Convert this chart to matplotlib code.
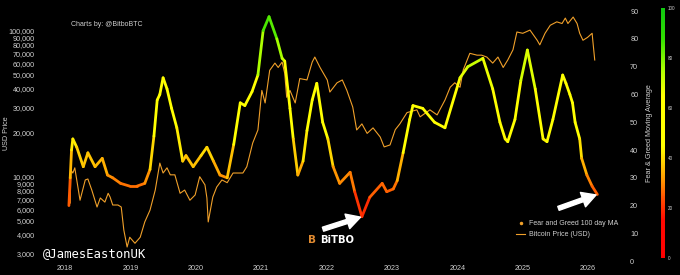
import matplotlib
matplotlib.use("Agg")
import matplotlib.pyplot as plt
import numpy as np
from matplotlib.collections import LineCollection
from matplotlib.colors import LinearSegmentedColormap, Normalize
from matplotlib.cm import ScalarMappable
from matplotlib.lines import Line2D
from matplotlib.ticker import FixedLocator

# bitcoin price (USD)
btc_year = [2018.08, 2018.09, 2018.12, 2018.15, 2018.23, 2018.31, 2018.35, 2018.41, 2018.49, 2018.54,
            2018.61, 2018.66, 2018.69, 2018.73, 2018.81, 2018.86, 2018.90, 2018.95, 2018.99, 2019.07,
            2019.15, 2019.22, 2019.30, 2019.38, 2019.45, 2019.50, 2019.56, 2019.61, 2019.68, 2019.76,
            2019.83, 2019.91, 2019.99, 2020.06, 2020.14, 2020.17, 2020.19, 2020.26, 2020.32, 2020.40,
            2020.48, 2020.57, 2020.72, 2020.78, 2020.87, 2020.95, 2021.01, 2021.06, 2021.13, 2021.21,
            2021.26, 2021.32, 2021.36, 2021.39, 2021.44, 2021.52, 2021.59, 2021.70, 2021.78, 2021.82,
            2021.90, 2022.01, 2022.05, 2022.16, 2022.24, 2022.31, 2022.40, 2022.46, 2022.54, 2022.62,
            2022.71, 2022.82, 2022.88, 2022.97, 2023.05, 2023.12, 2023.23, 2023.38, 2023.43, 2023.58,
            2023.69, 2023.81, 2023.89, 2023.96, 2024.04, 2024.09, 2024.19, 2024.30, 2024.37, 2024.45,
            2024.54, 2024.62, 2024.70, 2024.77, 2024.85, 2024.91, 2025.00, 2025.11, 2025.22, 2025.26,
            2025.34, 2025.42, 2025.52, 2025.60, 2025.65, 2025.69, 2025.77, 2025.83, 2025.87, 2025.92,
            2025.99, 2026.06, 2026.07, 2026.10]
btc_price = [6600, 11100, 10600, 11500, 6900, 9500, 9650, 8100, 6200, 7150,
             6700, 7700, 7250, 6400, 6400, 6200, 4300, 3300, 3850, 3500,
             3850, 4900, 5900, 8100, 12400, 10600, 11500, 10300, 10300, 7700,
             8100, 6900, 7500, 10000, 8800, 7150, 4900, 7250, 8500, 9500,
             9100, 10600, 10600, 11700, 17000, 20900, 39000, 32000, 53500, 60000,
             56000, 61000, 51000, 35000, 39000, 32000, 47000, 46000, 61000, 66000,
             56000, 46000, 38000, 44000, 46000, 39000, 30000, 20900, 23000, 19800,
             21600, 18700, 16000, 16500, 21000, 23000, 27500, 28700, 25700, 28700,
             26500, 33500, 41000, 44000, 41000, 54000, 70000, 68000, 68000, 66000,
             60000, 66000, 56000, 63000, 74000, 98000, 96000, 101000, 86000, 80000,
             96000, 109000, 115000, 112000, 122000, 112000, 124000, 112000, 96000, 86000,
             90000, 96000, 86000, 63000]

# fear & greed 100 day moving average
fg_year = [2018.06, 2018.08, 2018.10, 2018.12, 2018.18, 2018.28, 2018.35, 2018.46, 2018.57, 2018.65,
           2018.73, 2018.85, 2018.99, 2019.10, 2019.22, 2019.30, 2019.36, 2019.41, 2019.45, 2019.50,
           2019.56, 2019.63, 2019.71, 2019.80, 2019.85, 2019.96, 2020.08, 2020.17, 2020.27, 2020.37,
           2020.48, 2020.58, 2020.68, 2020.75, 2020.86, 2020.95, 2021.03, 2021.12, 2021.24, 2021.32,
           2021.36, 2021.44, 2021.49, 2021.56, 2021.64, 2021.70, 2021.78, 2021.85, 2021.94, 2022.02,
           2022.10, 2022.20, 2022.36, 2022.43, 2022.54, 2022.66, 2022.85, 2022.92, 2023.02, 2023.08,
           2023.17, 2023.27, 2023.32, 2023.47, 2023.65, 2023.81, 2024.04, 2024.16, 2024.39, 2024.54,
           2024.65, 2024.73, 2024.77, 2024.88, 2024.97, 2025.07, 2025.19, 2025.31, 2025.37, 2025.46,
           2025.61, 2025.66, 2025.72, 2025.76, 2025.80, 2025.87, 2025.90, 2025.98, 2026.06, 2026.14]
fg_value = [20, 30, 40, 44, 41, 34, 39, 34, 37, 31,
            30, 28, 27, 27, 28, 33, 45, 58, 60, 66,
            62, 55, 48, 36, 38, 34, 38, 41, 36, 31,
            30, 42, 57, 56, 61, 67, 83, 88, 80, 73,
            72, 55, 44, 31, 36, 47, 58, 64, 50, 44,
            34, 28, 32, 25, 16, 23, 28, 25, 26, 29,
            39, 51, 56, 55, 50, 48, 66, 70, 73, 62,
            50, 44, 43, 51, 65, 76, 62, 44, 43, 51,
            67, 64, 60, 57, 50, 44, 37, 31, 27, 24]

years = [2018, 2019, 2020, 2021, 2022, 2023, 2024, 2025, 2026]
price_ticks = [3000, 4000, 5000, 6000, 7000, 8000, 9000, 10000,
               20000, 30000, 40000, 50000, 60000, 70000, 80000, 90000, 100000]
fg_ticks = [0, 10, 20, 30, 40, 50, 60, 70, 80, 90]

txt = "#d0d0d0"
btc_col = "#f0a02a"
plt.rcParams["font.family"] = ["Liberation Sans", "DejaVu Sans"]

fg_cmap = LinearSegmentedColormap.from_list("fg", [
    (0.0, "#ff0000"), (0.15, "#ff0800"), (0.25, "#ff5a00"), (0.31, "#ff9500"),
    (0.38, "#ffd000"), (0.45, "#ffff00"), (0.65, "#ffff00"), (0.76, "#a8ff00"),
    (0.88, "#30e000"), (1.0, "#10c810")])
norm = Normalize(0, 100)

fig = plt.figure(figsize=(6.8, 2.75), dpi=100, facecolor="black")
ax = fig.add_axes([40 / 680, 13 / 275, 586 / 680, 257 / 275], facecolor="black")
ax2 = ax.twinx()

ax.plot(btc_year, btc_price, color=btc_col, lw=0.8)
ax.set_yscale("log")
ax.set_xlim(2017.618, 2026.578)
ax.set_ylim(2605, 150000)
ax.yaxis.set_major_locator(FixedLocator(price_ticks))
ax.yaxis.set_minor_locator(FixedLocator([]))
ax.yaxis.set_major_formatter("{x:,.0f}")
ax.set_xticks(years)
ax.set_xticklabels([str(y) for y in years])

pts = np.column_stack([fg_year, fg_value])
segs = np.stack([pts[:-1], pts[1:]], axis=1)
mids = (np.array(fg_value[:-1]) + np.array(fg_value[1:])) / 2
lc = LineCollection(segs, cmap=fg_cmap, norm=norm, linewidths=2.0, capstyle="round", joinstyle="round")
lc.set_array(mids)
ax2.add_collection(lc)
ax2.set_ylim(-0.3, 92.2)
ax2.set_yticks(fg_ticks)

for a in (ax, ax2):
    for s in a.spines.values():
        s.set_visible(False)
    a.tick_params(length=0, colors=txt, labelsize=5.2)
ax.tick_params(axis="y", pad=3.6)
ax.tick_params(axis="x", pad=2.5)
ax2.tick_params(axis="y", pad=3)

ax.set_ylabel("USD Price", color=txt, fontsize=5.2)
ax.yaxis.set_label_coords(-0.0512, 0.5)
ax2.set_ylabel("Fear & Greed Moving Average", color=txt, fontsize=5.2)
ax2.yaxis.set_label_coords(1.034, 0.5)

# colorbar
cax = fig.add_axes([660.7 / 680, 17 / 275, 4.6 / 680, 250 / 275])
cb = fig.colorbar(ScalarMappable(norm=norm, cmap=fg_cmap), cax=cax)
cb.outline.set_visible(False)
cb.set_ticks([0, 20, 40, 60, 80, 100])
cax.tick_params(length=0, colors=txt, labelsize=3.3, pad=1.5)

# legend
handles = [Line2D([], [], color=btc_col, marker=".", ls="none", markersize=3),
           Line2D([], [], color=btc_col, lw=0.8)]
fig.legend(handles, ["Fear and Greed 100 day MA", "Bitcoin Price (USD)"],
           loc="upper left", bbox_to_anchor=(510 / 680, 1 - 214 / 275), frameon=False,
           fontsize=5, labelcolor=txt, handlelength=1.3, handletextpad=0.6, labelspacing=0.55)

# arrows pointing at the low and at the last reading
arrow = dict(arrowstyle="simple,head_length=1.0,head_width=1.1,tail_width=0.3",
             color="white", mutation_scale=10, shrinkA=0, shrinkB=1)
imin = int(np.argmin(fg_value))
ax2.annotate("", xy=(fg_year[imin], fg_value[imin]), xytext=(-28, -9),
             textcoords="offset points", arrowprops=arrow)
ax2.annotate("", xy=(fg_year[-1], fg_value[-1]), xytext=(-28, -10),
             textcoords="offset points", arrowprops=arrow)

fig.text(71 / 680, 1 - 24 / 275, "Charts by: @BitboBTC", color=txt, fontsize=5, va="center")
fig.text(43 / 680, 1 - 254 / 275, "@JamesEastonUK", color="white", fontsize=8.8,
         family="DejaVu Sans Mono", va="center")
fig.text(312 / 680, 1 - 240 / 275, "B", color="#e08a30", fontsize=7.5, fontweight="bold",
         va="center", ha="center", family="DejaVu Sans")
fig.text(320 / 680, 1 - 240 / 275, "BiTBO", color="white", fontsize=7.2, fontweight="bold",
         va="center", family="DejaVu Sans")

fig.savefig("out.png", dpi=100, facecolor="black")
